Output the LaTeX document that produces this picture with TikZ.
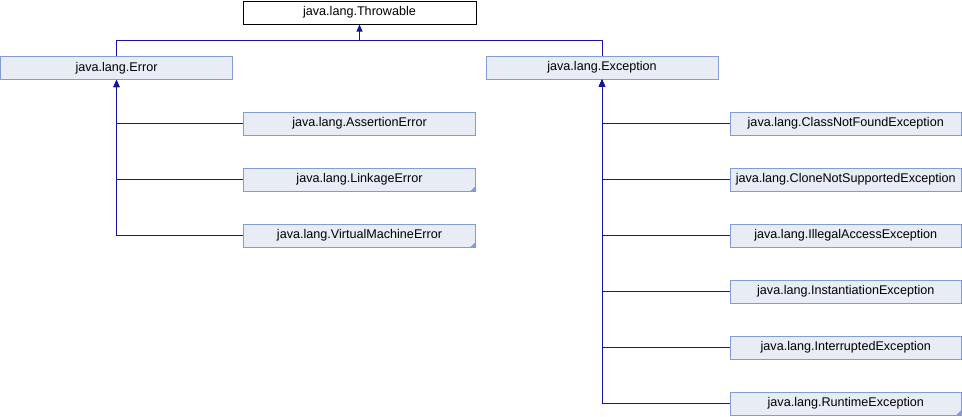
\documentclass[tikz,border=0pt]{standalone}
\usepackage{fontspec}
\setmainfont{Liberation Sans}
\usetikzlibrary{arrows.meta}
\definecolor{edgeblue}{RGB}{20,20,160}
\definecolor{boxfill}{RGB}{232,236,245}
\definecolor{boxline}{RGB}{132,156,212}
\tikzset{
  cls/.style={draw=boxline, fill=boxfill, line width=1pt, minimum height=23pt, inner sep=0pt, font=\fontsize{12.6}{14}\selectfont},
  wide/.style={cls, minimum width=232pt},
  rwide/.style={cls, minimum width=231pt},
  root/.style={draw=black, fill=white, line width=1pt, minimum width=233pt, minimum height=23pt, inner sep=0pt, font=\fontsize{12.6}{14}\selectfont},
  conn/.style={draw=edgeblue, line width=1pt},
  inh/.style={conn, -{Triangle[length=7pt,width=6pt]}},
  corner/.style={fill=boxline}
}
\newcommand{\mkcorner}[1]{\fill[corner] (#1.south east) -- ++(-6,0) -- ++(6,-6) -- cycle;}
\begin{document}
\begin{tikzpicture}[x=1pt,y=-1pt]
\useasboundingbox (0,0) rectangle (962,416);
\node[root] (thr) at (359.5,12.5) {java.lang.Throwable};
\node[wide] (err) at (116.5,68) {java.lang.Error};
\node[wide] (exc) at (602,67.5) {java.lang.Exception};
\node[wide] (ae) at (359.5,123.5) {java.lang.AssertionError};
\node[wide] (le) at (359.5,179.5) {java.lang.LinkageError};
\node[wide] (vme) at (359.5,235.5) {java.lang.VirtualMachineError};
\node[rwide] (cnf) at (845.75,123.5) {java.lang.ClassNotFoundException};
\node[rwide] (cns) at (845.75,179.5) {java.lang.CloneNotSupportedException};
\node[rwide] (iae) at (845.75,235.5) {java.lang.IllegalAccessException};
\node[rwide] (ie) at (845.75,291.5) {java.lang.InstantiationException};
\node[rwide] (ine) at (845.75,347.5) {java.lang.InterruptedException};
\node[rwide] (re) at (845.75,403.5) {java.lang.RuntimeException};
\mkcorner{le}
\mkcorner{vme}
\mkcorner{re}
\coordinate (j) at (thr.south |- 0,40.5);
\draw[conn] (err.north) |- (j) -| (exc.north);
\draw[inh] (j) -- (thr.south);
\foreach \c in {ae,le,vme} {
  \draw[inh] (\c.west) -| (err.south);
}
\foreach \c in {cnf,cns,iae,ie,ine,re} {
  \draw[inh] (\c.west) -| (exc.south);
}
\end{tikzpicture}
\end{document}
